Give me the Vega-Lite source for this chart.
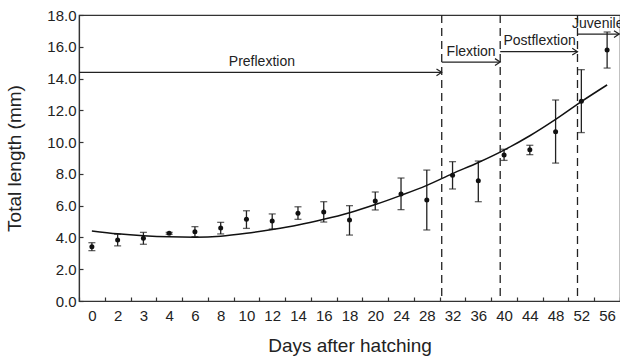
{
  "$schema": "https://vega.github.io/schema/vega-lite/v6.json",
  "width": 541,
  "height": 286,
  "autosize": "none",
  "padding": {"left": 79, "top": 15, "right": 0, "bottom": 58},
  "config": {
    "font": "Liberation Sans",
    "view": {"stroke": "#333", "strokeWidth": 1.2},
    "axis": {
      "grid": false,
      "domainColor": "#333",
      "domainWidth": 1.2,
      "tickColor": "#333",
      "tickWidth": 1.2,
      "labelColor": "#222",
      "labelFontSize": 15,
      "titleColor": "#222",
      "titleFontSize": 19,
      "titleFontWeight": "normal"
    },
    "axisY": {"labelOverlap": false, "labelFlush": false, "labelBound": false}
  },
  "layer": [
    {
      "data": {"name": "main", "values": [
        {"day": "0", "mean": 3.42, "lo": 3.17, "hi": 3.67, "fit": 4.41},
        {"day": "2", "mean": 3.84, "lo": 3.47, "hi": 4.20, "fit": 4.23},
        {"day": "3", "mean": 3.95, "lo": 3.57, "hi": 4.32, "fit": 4.11},
        {"day": "4", "mean": 4.26, "lo": 4.20, "hi": 4.32, "fit": 4.04},
        {"day": "6", "mean": 4.36, "lo": 4.05, "hi": 4.68, "fit": 4.02},
        {"day": "8", "mean": 4.59, "lo": 4.22, "hi": 4.95, "fit": 4.08},
        {"day": "10", "mean": 5.14, "lo": 4.57, "hi": 5.68, "fit": 4.26},
        {"day": "12", "mean": 5.03, "lo": 4.53, "hi": 5.48, "fit": 4.50},
        {"day": "14", "mean": 5.52, "lo": 5.14, "hi": 5.93, "fit": 4.78},
        {"day": "16", "mean": 5.60, "lo": 4.97, "hi": 6.25, "fit": 5.14},
        {"day": "18", "mean": 5.10, "lo": 4.15, "hi": 6.00, "fit": 5.56},
        {"day": "20", "mean": 6.29, "lo": 5.73, "hi": 6.86, "fit": 6.07},
        {"day": "24", "mean": 6.73, "lo": 5.75, "hi": 7.74, "fit": 6.65},
        {"day": "28", "mean": 6.36, "lo": 4.47, "hi": 8.24, "fit": 7.28},
        {"day": "32", "mean": 7.91, "lo": 7.05, "hi": 8.77, "fit": 8.02},
        {"day": "36", "mean": 7.57, "lo": 6.25, "hi": 8.81, "fit": 8.72},
        {"day": "40", "mean": 9.19, "lo": 8.85, "hi": 9.55, "fit": 9.50},
        {"day": "44", "mean": 9.52, "lo": 9.21, "hi": 9.80, "fit": 10.40},
        {"day": "48", "mean": 10.65, "lo": 8.68, "hi": 12.65, "fit": 11.43},
        {"day": "52", "mean": 12.57, "lo": 10.60, "hi": 14.56, "fit": 12.55},
        {"day": "56", "mean": 15.80, "lo": 14.66, "hi": 16.93, "fit": 13.60}
      ]},
      "mark": {"type": "rule", "color": "#222", "strokeWidth": 1.3},
      "encoding": {
        "x": {
          "field": "day", "type": "ordinal",
          "scale": {"type": "band", "paddingInner": 0, "paddingOuter": 0,
            "domain": ["0","2","3","4","6","8","10","12","14","16","18","20","24","28","32","36","40","44","48","52","56"]},
          "axis": {"title": "Days after hatching", "labelAngle": 0, "tickBand": "extent", "tickSize": -4, "labelPadding": 11, "titlePadding": 13, "labelOverlap": false}
        },
        "y": {
          "field": "lo", "type": "quantitative",
          "scale": {"domain": [0, 18], "nice": false, "zero": true},
          "axis": {"title": "Total length (mm)", "values": [0,2,4,6,8,10,12,14,16,18], "tickCount": 12, "format": ".1f", "tickSize": -4, "labelPadding": 7, "titlePadding": 22, "labelOverlap": false, "labelFlush": false, "labelBound": false}
        },
        "y2": {"field": "hi"}
      }
    },
    {
      "data": {"name": "main"},
      "mark": {"type": "tick", "color": "#222", "size": 7, "thickness": 1.3},
      "encoding": {"x": {"field": "day", "type": "ordinal"}, "y": {"field": "lo", "type": "quantitative"}}
    },
    {
      "data": {"name": "main"},
      "mark": {"type": "tick", "color": "#222", "size": 7, "thickness": 1.3},
      "encoding": {"x": {"field": "day", "type": "ordinal"}, "y": {"field": "hi", "type": "quantitative"}}
    },
    {
      "data": {"name": "main"},
      "mark": {"type": "line", "color": "#111", "strokeWidth": 1.5, "interpolate": "monotone"},
      "encoding": {"x": {"field": "day", "type": "ordinal"}, "y": {"field": "fit", "type": "quantitative"}}
    },
    {
      "data": {"name": "main"},
      "mark": {"type": "point", "filled": true, "color": "#111", "size": 25, "opacity": 1},
      "encoding": {"x": {"field": "day", "type": "ordinal"}, "y": {"field": "mean", "type": "quantitative"}}
    },
    {
      "data": {"values": [{"day": "32"}]},
      "mark": {"type": "rule", "color": "#222", "strokeWidth": 1.3, "strokeDash": [8, 5]},
      "encoding": {"x": {"field": "day", "type": "ordinal", "bandPosition": 0.08}}
    },
    {
      "data": {"values": [{"day": "40"}, {"day": "52"}]},
      "mark": {"type": "rule", "color": "#222", "strokeWidth": 1.3, "strokeDash": [8, 5]},
      "encoding": {"x": {"field": "day", "type": "ordinal", "bandPosition": 0.35}}
    },
    {
      "data": {"values": [{"start": "0", "end": "32", "y": 14.39}]},
      "mark": {"type": "rule", "color": "#222", "strokeWidth": 1.2},
      "encoding": {"x": {"field": "start", "type": "ordinal", "bandPosition": 0}, "x2": {"field": "end", "bandPosition": 0.08}, "y": {"field": "y", "type": "quantitative"}}
    },
    {
      "data": {"values": [{"start": "32", "end": "40", "y": 15.04}]},
      "mark": {"type": "rule", "color": "#222", "strokeWidth": 1.2},
      "encoding": {"x": {"field": "start", "type": "ordinal", "bandPosition": 0.08}, "x2": {"field": "end", "bandPosition": 0.35}, "y": {"field": "y", "type": "quantitative"}}
    },
    {
      "data": {"values": [{"start": "40", "end": "52", "y": 15.69}]},
      "mark": {"type": "rule", "color": "#222", "strokeWidth": 1.2},
      "encoding": {"x": {"field": "start", "type": "ordinal", "bandPosition": 0.35}, "x2": {"field": "end", "bandPosition": 0.35}, "y": {"field": "y", "type": "quantitative"}}
    },
    {
      "data": {"values": [{"start": "52", "end": "56", "y": 16.8}]},
      "mark": {"type": "rule", "color": "#222", "strokeWidth": 1.2},
      "encoding": {"x": {"field": "start", "type": "ordinal", "bandPosition": 0.35}, "x2": {"field": "end", "bandPosition": 0.97}, "y": {"field": "y", "type": "quantitative"}}
    },
    {
      "data": {"values": [{"end": "32", "y": 14.39}]},
      "mark": {"type": "point", "shape": "M-1,-0.65L0,0L-1,0.65", "filled": false, "color": "#222", "strokeWidth": 1.2, "size": 110, "opacity": 1},
      "encoding": {"x": {"field": "end", "type": "ordinal", "bandPosition": 0.08}, "y": {"field": "y", "type": "quantitative"}}
    },
    {
      "data": {"values": [{"end": "40", "y": 15.04}, {"end": "52", "y": 15.69}]},
      "mark": {"type": "point", "shape": "M-1,-0.65L0,0L-1,0.65", "filled": false, "color": "#222", "strokeWidth": 1.2, "size": 110, "opacity": 1},
      "encoding": {"x": {"field": "end", "type": "ordinal", "bandPosition": 0.35}, "y": {"field": "y", "type": "quantitative"}}
    },
    {
      "data": {"values": [{"end": "56", "y": 16.8}]},
      "mark": {"type": "point", "shape": "M-1,-0.65L0,0L-1,0.65", "filled": false, "color": "#222", "strokeWidth": 1.2, "size": 110, "opacity": 1},
      "encoding": {"x": {"field": "end", "type": "ordinal", "bandPosition": 0.97}, "y": {"field": "y", "type": "quantitative"}}
    },
    {
      "data": {"values": [{"at": "12", "y": 14.39, "label": "Preflextion"}]},
      "mark": {"type": "text", "fontSize": 14, "color": "#222", "dy": -10, "baseline": "middle", "align": "center"},
      "encoding": {"x": {"field": "at", "type": "ordinal", "bandPosition": 0.1}, "y": {"field": "y", "type": "quantitative"}, "text": {"field": "label"}}
    },
    {
      "data": {"values": [{"at": "36", "y": 15.04, "label": "Flextion"}]},
      "mark": {"type": "text", "fontSize": 14, "color": "#222", "dy": -10, "baseline": "middle", "align": "center"},
      "encoding": {"x": {"field": "at", "type": "ordinal", "bandPosition": 0.22}, "y": {"field": "y", "type": "quantitative"}, "text": {"field": "label"}}
    },
    {
      "data": {"values": [{"at": "44", "y": 15.69, "label": "Postflextion"}]},
      "mark": {"type": "text", "fontSize": 14, "color": "#222", "dy": -11, "baseline": "middle", "align": "center"},
      "encoding": {"x": {"field": "at", "type": "ordinal", "bandPosition": 0.88}, "y": {"field": "y", "type": "quantitative"}, "text": {"field": "label"}}
    },
    {
      "data": {"values": [{"at": "52", "y": 16.8, "label": "Juvenile"}]},
      "mark": {"type": "text", "fontSize": 14, "color": "#222", "dy": -10, "baseline": "middle", "align": "left"},
      "encoding": {"x": {"field": "at", "type": "ordinal", "bandPosition": 0.14}, "y": {"field": "y", "type": "quantitative"}, "text": {"field": "label"}}
    }
  ]
}
